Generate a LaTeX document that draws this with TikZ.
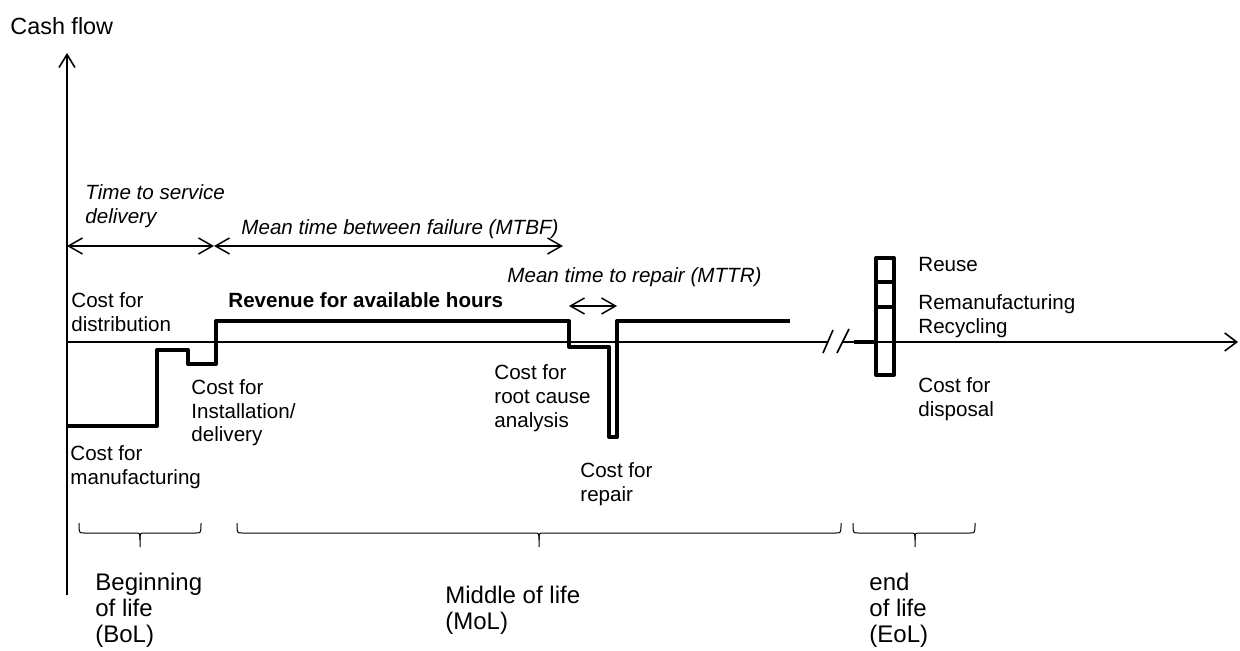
\documentclass[tikz,border=0pt]{standalone}
\usepackage{fontspec}
\setmainfont{Liberation Sans}
\usetikzlibrary{arrows.meta}
\newcommand\stackl[1]{\begin{tabular}[t]{@{}l@{}}#1\end{tabular}}
\tikzset{
  lbl/.style={anchor=base west, inner sep=0pt, font=\fontsize{10.3}{12}\selectfont},
  ilbl/.style={lbl, font=\fontsize{10.3}{12}\selectfont\itshape},
  blbl/.style={anchor=base west, inner sep=0pt, font=\fontsize{12}{13}\selectfont},
  axisline/.style={line width=0.8pt},
  flowline/.style={line width=2pt, line join=round},
  dimarrow/.style={line width=0.75pt, {Straight Barb[length=7pt,width=8pt]}-{Straight Barb[length=7pt,width=8pt]}},
  brc/.style={line width=0.5pt}
}
\newcommand\lifebrace[3]{% left, right, center
  \draw[brc] (#1,523) .. controls (#1,533) .. (#1+5,533) -- (#3-5,533)
     .. controls (#3,533) .. (#3,540) -- (#3,547);
  \draw[brc] (#3,540) .. controls (#3,533) .. (#3+5,533) -- (#2-5,533)
     .. controls (#2,533) .. (#2,523);
}
\begin{document}
\begin{tikzpicture}[x=0.5pt,y=-0.5pt]
\useasboundingbox (0,0) rectangle (1240,651);

% coordinates
\coordinate (ybot) at (67,595);
\coordinate (ytop) at (67,53);
\coordinate (x0) at (67,342);
\coordinate (xbrk1) at (828,342);
\coordinate (xbrk2) at (843,342);
\coordinate (xend) at (1238,342);

% axes
\draw[axisline, -{Straight Barb[length=6.5pt,width=8pt]}] (ybot) -- (ytop);
\draw[axisline] (x0) -- (xbrk1);
\draw[axisline, -{Straight Barb[length=6pt,width=9pt]}] (xbrk2) -- (xend);
\draw[axisline] (823,353) -- (833,330);
\draw[axisline] (837,353) -- (849,329);

% cash flow curve
\coordinate (f0) at (67,426);
\draw[flowline] (f0) -- (157,426) -- (157,350) -- (188,350) -- (188,364) -- (216,364)
  -- (216,321) -- (569,321) -- (569,347) -- (609,347) -- (609,437) -- (617,437)
  -- (617,321) -- (790,321);

% end of life
\draw[flowline] (854,342) -- (876,342);
\draw[flowline] (876,258) rectangle (894,375);
\draw[flowline] (876,282) -- (894,282);
\draw[flowline] (876,307) -- (894,307);

% dimension arrows
\coordinate (t0) at (67,246);
\coordinate (t1) at (214,246);
\coordinate (t2) at (563,246);
\coordinate (r0) at (569,306);
\coordinate (r1) at (617,306);
\draw[dimarrow] (t0) -- (t1);
\draw[dimarrow] (t1) -- (t2);
\draw[dimarrow] (r0) -- (r1);

% labels
\node[anchor=base west, inner sep=0pt, font=\fontsize{11.7}{14}\selectfont] (cf) at (10,35) {Cash flow};
\node[ilbl] (tsd) at (85,200) {\stackl{Time to service\\delivery}};
\node[ilbl] (mtbf) at (241,235) {Mean time between failure (MTBF)};
\node[ilbl] (mttr) at (507,283) {Mean time to repair (MTTR)};
\node[lbl] (cdist) at (71,308) {\stackl{Cost for\\distribution}};
\node[lbl, font=\fontsize{10.3}{12}\selectfont\bfseries] (rev) at (228,308) {Revenue for available hours};
\node[lbl] (cinst) at (191,394) {\stackl{Cost for\\Installation/\\delivery}};
\node[lbl] (cman) at (70,460) {\stackl{Cost for\\manufacturing}};
\node[lbl] (crca) at (494,380) {\stackl{Cost for\\root cause\\analysis}};
\node[lbl] (crep) at (580,477) {\stackl{Cost for\\repair}};
\node[lbl] (reuse) at (918,272) {Reuse};
\node[lbl] (reman) at (918,310) {\stackl{Remanufacturing\\Recycling}};
\node[lbl] (cdisp) at (918,393) {\stackl{Cost for\\disposal}};

% braces
\lifebrace{79}{201}{140}
\lifebrace{237}{841}{539}
\lifebrace{853}{975}{915}

\node[blbl] (bol) at (95,590) {\stackl{Beginning\\of life\\(BoL)}};
\node[blbl] (mol) at (445,603) {\stackl{Middle of life\\(MoL)}};
\node[blbl] (eol) at (869,590) {\stackl{end\\of life\\(EoL)}};
\end{tikzpicture}
\end{document}
